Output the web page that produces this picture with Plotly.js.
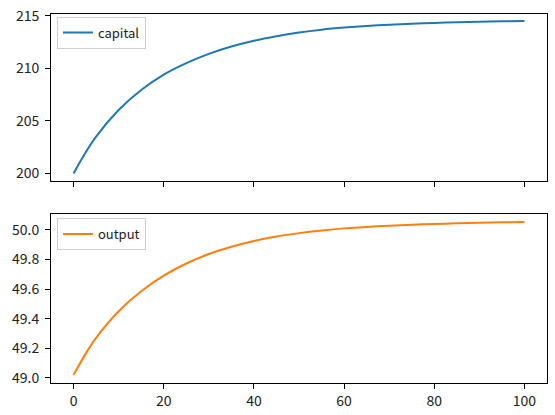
<!DOCTYPE html>
<html>
<head>
<meta charset="utf-8">
<script src="https://cdn.plot.ly/plotly-3.0.1.min.js"></script>
<style>html,body{margin:0;padding:0;background:#fff;}#chart{width:555px;height:415px;}</style>
</head>
<body>
<div id="chart"></div>
<script>
// time periods
const periods = [0,2.5,5,10,15,20,25,30,35,40,45,50,55,60,65,70,75,80,85,90,95,100];
// capital stock
const capital = [200.00,201.88,203.51,206.04,207.94,209.41,210.50,211.38,212.08,212.63,213.06,213.41,213.68,213.88,214.03,214.15,214.25,214.32,214.38,214.43,214.47,214.50];
// output
const output = [49.020,49.154,49.270,49.450,49.585,49.690,49.772,49.836,49.885,49.924,49.954,49.977,49.995,50.009,50.019,50.027,50.034,50.039,50.043,50.047,50.050,50.052];
const xTicks = [0,20,40,60,80,100];
const capTicks = [200,205,210,215];
const outTicks = [49.0,49.2,49.4,49.6,49.8,50.0];

const font = {family: '"Noto Sans CJK JP", "DejaVu Sans", sans-serif', size: 14, color: '#222'};
const legendFont = {family: '"Noto Sans CJK JP", "DejaVu Sans", sans-serif', size: 13, color: '#222'};

const traces = [
  {x: periods, y: capital, name: 'capital', type: 'scatter', mode: 'lines',
   line: {color: '#1f77b4', width: 2, shape: 'spline', smoothing: 0.8}, xaxis: 'x', yaxis: 'y', legend: 'legend'},
  {x: periods, y: output, name: 'output', type: 'scatter', mode: 'lines',
   line: {color: '#ff7f0e', width: 2, shape: 'spline', smoothing: 0.8}, xaxis: 'x2', yaxis: 'y2', legend: 'legend2'}
];

const axisCommon = {showline: true, mirror: true, linecolor: '#000', linewidth: 1,
  ticks: 'outside', ticklen: 5, tickwidth: 1, tickcolor: '#000', showgrid: false, zeroline: false,
  tickfont: font};

const legendCommon = {xref: 'paper', yref: 'paper', xanchor: 'left', yanchor: 'top',
  bgcolor: 'rgba(255,255,255,0.8)', bordercolor: '#d0d0d0', borderwidth: 1, font: legendFont};

const layout = {
  width: 555, height: 415,
  margin: {l: 51, r: 8, t: 14, b: 32},
  paper_bgcolor: '#fff', plot_bgcolor: '#fff',
  font: font,
  showlegend: true,
  xaxis: Object.assign({}, axisCommon, {domain: [0,1], anchor: 'y', range: [-5,105],
    tickvals: xTicks, showticklabels: false}),
  yaxis: Object.assign({}, axisCommon, {domain: [0.5474,1], anchor: 'x', range: [199.28,215.17],
    tickvals: capTicks, ticklabelstandoff: 3}),
  xaxis2: Object.assign({}, axisCommon, {domain: [0,1], anchor: 'y2', range: [-5,105],
    tickvals: xTicks}),
  yaxis2: Object.assign({}, axisCommon, {domain: [0,0.458], anchor: 'x2', range: [48.966,50.106],
    tickvals: outTicks, tickformat: '.1f', ticklabelstandoff: 3}),
  legend: Object.assign({}, legendCommon, {x: 0.012, y: 0.993}),
  legend2: Object.assign({}, legendCommon, {x: 0.012, y: 0.447})
};

Plotly.newPlot('chart', traces, layout, {displayModeBar: false, staticPlot: true});
</script>
</body>
</html>
